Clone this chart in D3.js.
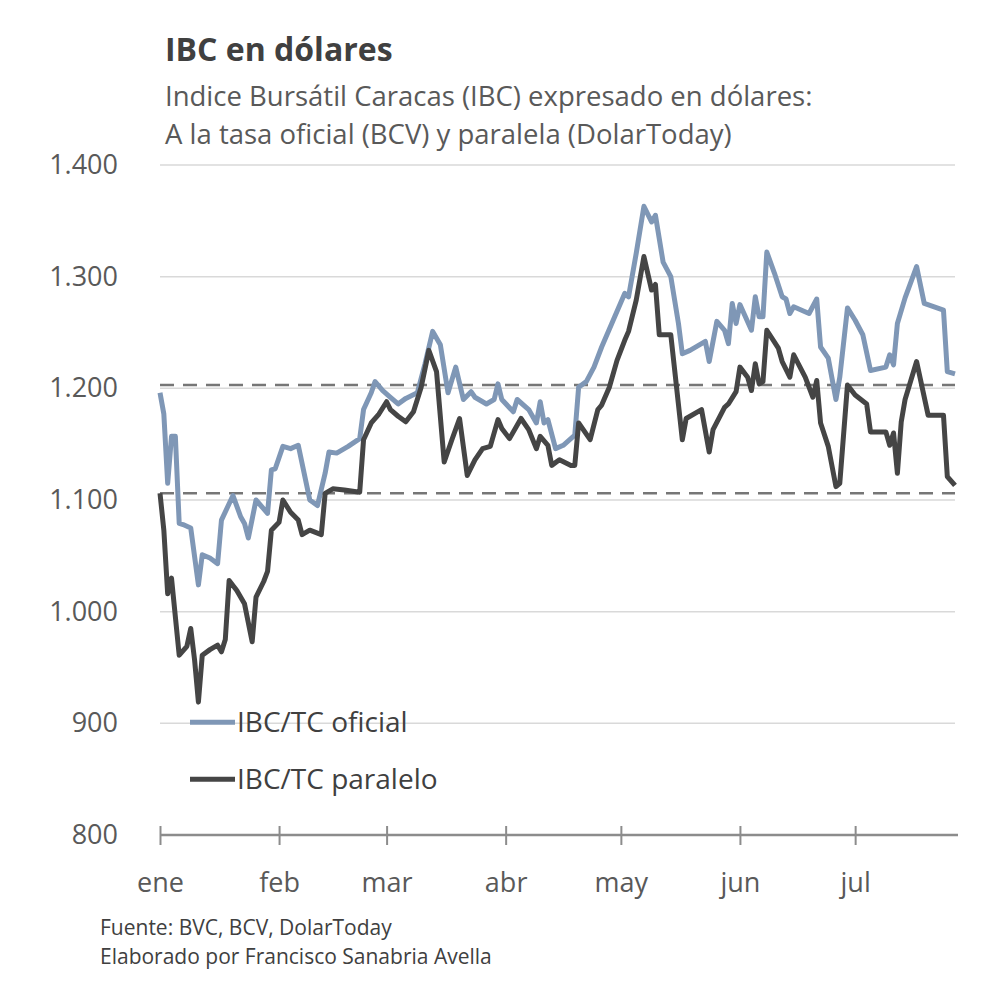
<!DOCTYPE html>
<html>
<head>
<meta charset="utf-8">
<script src="https://cdn.jsdelivr.net/npm/d3@7"></script>
<style>
  body { margin: 0; background: #fff; }
  svg { font-family: "Open Sans", "Noto Sans", sans-serif; }
</style>
</head>
<body>
<svg width="1000" height="994"></svg>
<script>
// ---- Datos
const oficialDates = ["01-01","01-02","01-03","01-04","01-05","01-06","01-07","01-09","01-11","01-12","01-14","01-16","01-17","01-20","01-22","01-23","01-24","01-26","01-28","01-29","01-30","01-31",
  "02-02","02-04","02-06","02-09","02-11","02-13","02-14","02-16","02-19","02-22","02-23","02-25","02-26","02-28",
  "03-02","03-04","03-06","03-09","03-11","03-13","03-15","03-17","03-19","03-21","03-23","03-24","03-27","03-29","03-30","03-31",
  "04-03","04-04","04-07","04-09","04-10","04-11","04-12","04-14","04-16","04-19","04-20","04-22","04-24","04-26","04-29",
  "05-02","05-03","05-05","05-07","05-09","05-10","05-12","05-14","05-16","05-17","05-19","05-23","05-24","05-26","05-28","05-29","05-30","05-31",
  "06-01","06-04","06-05","06-06","06-07","06-08","06-10","06-12","06-13","06-14","06-15","06-19","06-21","06-22","06-24","06-26","06-27","06-29",
  "07-01","07-03","07-05","07-09","07-10","07-11","07-12","07-14","07-17","07-19","07-24","07-25","07-27"];
const oficialValues = [1196,1177,1115,1157,1157,1079,1078,1075,1024,1051,1048,1043,1082,1104,1085,1079,1066,1100,1092,1088,1127,1128,
  1148,1146,1149,1100,1095,1124,1143,1142,1148,1155,1181,1196,1206,1198,
  1192,1186,1191,1196,1222,1251,1239,1196,1219,1190,1197,1192,1186,1190,1204,1190,
  1179,1190,1181,1169,1188,1169,1172,1146,1149,1158,1201,1206,1219,1237,1261,
  1285,1282,1321,1363,1349,1355,1313,1300,1258,1231,1234,1242,1224,1260,1252,1240,1276,1258,
  1275,1252,1282,1264,1264,1322,1303,1282,1280,1267,1273,1267,1280,1237,1227,1190,1210,1272,
  1261,1248,1216,1219,1230,1221,1258,1281,1309,1276,1270,1215,1213];

const paraleloDates = ["01-01","01-02","01-03","01-04","01-06","01-08","01-09","01-10","01-11","01-12","01-14","01-16","01-17","01-18","01-19","01-21","01-23","01-25","01-26","01-28","01-29","01-30",
  "02-01","02-02","02-04","02-06","02-07","02-09","02-12","02-13","02-15","02-18","02-22","02-23","02-25","02-27",
  "03-01","03-02","03-04","03-06","03-08","03-10","03-12","03-14","03-16","03-18","03-20","03-22","03-24","03-26","03-28","03-30","03-31",
  "04-02","04-05","04-07","04-09","04-10","04-12","04-13","04-15","04-18","04-19","04-20","04-23","04-25","04-26","04-28","04-30",
  "05-02","05-03","05-05","05-07","05-09","05-10","05-11","05-14","05-17","05-18","05-22","05-24","05-25","05-28","05-29","05-31",
  "06-01","06-03","06-04","06-05","06-06","06-07","06-08","06-11","06-12","06-14","06-15","06-18","06-20","06-21","06-22","06-24","06-26","06-27","06-29",
  "07-01","07-04","07-05","07-09","07-10","07-11","07-12","07-13","07-14","07-17","07-20","07-24","07-25","07-27"];
const paraleloValues = [1106,1073,1016,1030,961,969,985,957,919,961,966,970,964,975,1028,1019,1007,973,1013,1027,1036,1073,
  1080,1100,1089,1082,1069,1073,1069,1106,1110,1109,1107,1154,1169,1177,
  1188,1181,1175,1170,1179,1201,1234,1215,1134,1154,1173,1122,1136,1146,1148,1172,1164,
  1155,1173,1163,1146,1157,1149,1131,1136,1131,1131,1169,1154,1181,1185,1201,1225,
  1243,1251,1279,1318,1288,1293,1248,1248,1154,1173,1181,1143,1163,1183,1186,1197,
  1219,1210,1198,1222,1204,1206,1252,1236,1224,1210,1230,1210,1192,1207,1169,1148,1112,1115,1203,
  1194,1186,1161,1161,1149,1160,1124,1170,1190,1224,1176,1176,1121,1113];

const refValues = [1203, 1106];            // líneas punteadas
const yTicks = [800, 900, 1000, 1100, 1200, 1300, 1400];
const monthLabels = ["ene", "feb", "mar", "abr", "may", "jun", "jul"];
const seriesNames = ["IBC/TC oficial", "IBC/TC paralelo"];
const year = 2017;

// ---- Configuración
const margens = { left: 160, right: 45, top: 165, bottom: 159 };
const colors = ["#7f97b6", "#454545"];
const fontFamily = '"Open Sans", "Noto Sans", sans-serif';

const svg = d3.select('svg');
const width = +svg.attr('width');
const height = +svg.attr('height');
const plotW = width - margens.left - margens.right;
const plotH = height - margens.top - margens.bottom;

const parse = d3.timeParse('%Y-%m-%d');
const toSeries = (dates, values) => dates.map((d, i) => ({ date: parse(`${year}-${d}`), value: values[i] }));
const series = [toSeries(oficialDates, oficialValues), toSeries(paraleloDates, paraleloValues)];

// ---- Escalas
const mapX = d3.scaleTime()
    .domain([parse(`${year}-01-01`), parse(`${year}-07-27`)])
    .range([0, plotW]);

const mapY = d3.scaleLinear()
    .domain([800, 1400])
    .range([plotH, 0]);

const esFormat = d3.formatLocale({ decimal: ",", thousands: ".", grouping: [3], currency: ["", ""] }).format(",");

// ---- Títulos
svg.append('text')
    .attr('x', 165).attr('y', 61)
    .style('font-size', '32px').style('font-weight', 'bold').style('fill', '#404040')
    .text('IBC en dólares');

const subtitle = ['Indice Bursátil Caracas (IBC) expresado en dólares:', 'A la tasa oficial (BCV) y paralela (DolarToday)'];
svg.selectAll('.subtitle').data(subtitle).join('text')
    .attr('class', 'subtitle')
    .attr('x', 165).attr('y', (d, i) => 106 + i * 38)
    .style('font-size', '27.5px').style('fill', '#595959')
    .text(d => d);

const g = svg.append('g').attr('transform', `translate(${margens.left}, ${margens.top})`);

// ---- Grilla
g.append('g')
    .selectAll('line')
    .data(yTicks.filter(t => t > 800))
    .join('line')
    .attr('x1', 0).attr('x2', plotW)
    .attr('y1', d => mapY(d)).attr('y2', d => mapY(d))
    .attr('stroke', '#d9d9d9').attr('stroke-width', 1.5);

// ---- Eje Y
const yAxis = g.append('g')
    .call(d3.axisLeft(mapY).tickValues(yTicks).tickSize(0).tickPadding(42).tickFormat(esFormat));
yAxis.select('.domain').remove();
yAxis.selectAll('text')
    .style('font-size', '27px').style('fill', '#595959').style('font-family', fontFamily);

// ---- Líneas punteadas
g.append('g')
    .selectAll('line')
    .data(refValues)
    .join('line')
    .attr('x1', 0).attr('x2', plotW)
    .attr('y1', d => mapY(d)).attr('y2', d => mapY(d))
    .attr('stroke', '#767676').attr('stroke-width', 2.5).attr('stroke-dasharray', '14,9');

// ---- Eje X
const xAxis = g.append('g')
    .attr('transform', `translate(0, ${plotH})`)
    .call(d3.axisBottom(mapX)
        .ticks(d3.timeMonth.every(1))
        .tickSizeInner(10).tickSizeOuter(0).tickPadding(28)
        .tickFormat(d => monthLabels[d.getMonth()]));
xAxis.select('.domain').attr('stroke', '#8c8c8c').attr('stroke-width', 2.5).attr('d', `M0,0H${plotW + 3}`);
xAxis.selectAll('.tick line').attr('y1', -9).attr('stroke', '#8c8c8c').attr('stroke-width', 2);
xAxis.selectAll('text')
    .style('font-size', '27px').style('fill', '#595959').style('font-family', fontFamily);

// ---- Series
const line = d3.line()
    .x(d => mapX(d.date))
    .y(d => mapY(d.value));

g.append('g')
    .selectAll('path')
    .data(series)
    .join('path')
    .attr('d', line)
    .attr('fill', 'none')
    .attr('stroke', (d, i) => colors[i])
    .attr('stroke-width', 5)
    .attr('stroke-linejoin', 'round');

// ---- Leyenda
const legend = g.append('g').attr('transform', `translate(30, ${mapY(901)})`);
const items = legend.selectAll('g').data(seriesNames).join('g')
    .attr('transform', (d, i) => `translate(0, ${i * 57})`);
items.append('line')
    .attr('x1', 0).attr('x2', 45)
    .attr('stroke', (d, i) => colors[i]).attr('stroke-width', 5);
items.append('text')
    .attr('x', 47).attr('dy', '0.35em')
    .style('font-size', '28px').style('fill', '#404040')
    .text(d => d);

// ---- Fuente
const footer = ['Fuente: BVC, BCV, DolarToday', 'Elaborado por Francisco Sanabria Avella'];
svg.selectAll('.footer').data(footer).join('text')
    .attr('class', 'footer')
    .attr('x', 100).attr('y', (d, i) => 935 + i * 29)
    .style('font-size', '21px').style('fill', '#404040')
    .text(d => d);
</script>
</body>
</html>
